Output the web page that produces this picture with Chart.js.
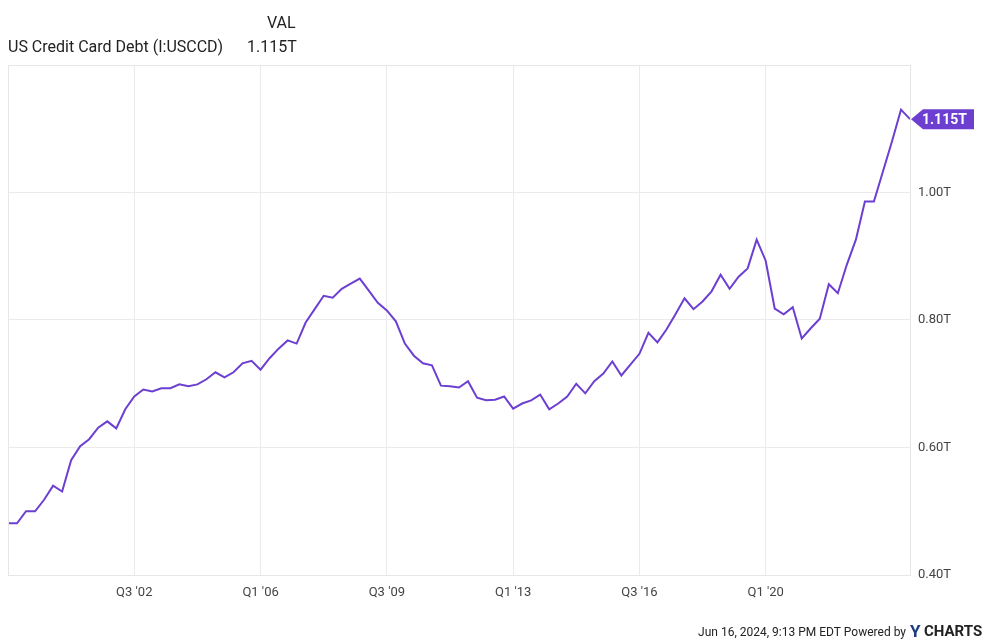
<!DOCTYPE html>
<html><head><meta charset="utf-8">
<script src="https://cdn.jsdelivr.net/npm/chart.js@4"></script>
<style>html,body{margin:0;padding:0;background:#fff}#w{width:1000px;height:643px}</style>
</head><body><div id="w"><canvas id="c"></canvas></div>
<script>
const startLabel = "Q1 '99";
const values = [0.481,0.481,0.500,0.500,0.518,0.540,0.531,0.580,0.602,0.613,0.631,0.641,0.630,0.660,0.680,0.691,0.688,0.693,0.693,0.699,0.696,0.699,0.707,0.718,0.710,0.718,0.732,0.736,0.722,0.740,0.755,0.768,0.763,0.796,0.817,0.838,0.835,0.849,0.857,0.865,0.846,0.827,0.815,0.798,0.763,0.744,0.732,0.729,0.697,0.696,0.694,0.704,0.678,0.674,0.675,0.680,0.661,0.669,0.674,0.683,0.660,0.669,0.680,0.700,0.685,0.704,0.716,0.735,0.713,0.730,0.747,0.780,0.765,0.785,0.809,0.834,0.817,0.829,0.845,0.871,0.849,0.868,0.881,0.926,0.893,0.818,0.809,0.820,0.771,0.787,0.802,0.856,0.842,0.887,0.926,0.986,0.986,1.033,1.080,1.130,1.115];
const xTickPos = [14,28,42,56,70,84];
const xTickLabels = ["Q3 '02","Q1 '06","Q3 '09","Q1 '13","Q3 '16","Q1 '20"];
const yTicks = [0.4,0.6,0.8,1.0];
const lastLabel = "1.115T";
const LINE = '#6c3fd1';
const pts = values.map((v,i)=>({x:i,y:v}));
const deco = {id:'deco',
  beforeDraw(ch){const c=ch.ctx;c.save();c.fillStyle='#fff';c.fillRect(0,0,ch.width,ch.height);c.restore();},
  afterDraw(ch){const c=ch.ctx,a=ch.chartArea;c.save();
    c.strokeStyle='#e6e6e6';c.lineWidth=1;c.strokeRect(a.left+0.5,a.top+0.5,a.right-a.left,a.bottom-a.top);
    c.fillStyle='#222';c.font='16px Roboto';c.textBaseline='alphabetic';
    c.textAlign='left';c.fillText('US Credit Card Debt (I:USCCD)',8,52);
    c.fillText('1.115T',247,52);c.fillText('VAL',267,28);
    c.font='12px Roboto';c.textAlign='right';c.fillText('Jun 16, 2024, 9:13 PM EDT Powered by',906,636);
    c.font='bold 17px Roboto';c.fillStyle='#1c3d7a';c.textAlign='left';c.fillText('Y',910,637);c.fillStyle='#222';c.font='bold 15px Roboto';c.fillText('CHARTS',924,636);
    const m=ch.getDatasetMeta(0).data;const p=m[m.length-1];
    const y=p.y, x0=a.right+1;
    c.fillStyle=LINE;c.beginPath();c.moveTo(x0,y);c.lineTo(x0+12,y-10);c.lineTo(974,y-10);c.lineTo(974,y+10);c.lineTo(x0+12,y+10);c.closePath();c.fill();
    c.fillStyle='#fff';c.font='bold 14px Roboto';c.textAlign='left';c.textBaseline='middle';c.fillText(lastLabel,922,y+1);
    c.restore();}};
new Chart(document.getElementById('c'),{type:'line',
 data:{datasets:[{data:pts,borderColor:LINE,borderWidth:2,pointRadius:0,tension:0}]},
 options:{responsive:true,maintainAspectRatio:false,animation:false,
  layout:{padding:{top:65,left:8,right:0,bottom:0}},
  plugins:{legend:{display:false},tooltip:{enabled:false}},
  scales:{
   x:{type:'linear',min:0,max:100,
      afterBuildTicks(s){s.ticks=xTickPos.map(v=>({value:v}));},
      afterFit(s){s.height=68;},
      border:{display:false},
      grid:{color:'#ebebeb',drawTicks:false},
      ticks:{padding:10,color:'#444',font:{family:'Roboto',size:13},maxRotation:0,
        callback:(v)=>xTickLabels[xTickPos.indexOf(v)]}},
   y:{position:'right',min:0.4,max:1.2,
      afterBuildTicks(s){s.ticks=yTicks.map(v=>({value:v}));},
      afterFit(s){s.width=90;},
      border:{display:false},
      grid:{color:'#ebebeb',drawTicks:false},
      ticks:{padding:8,color:'#444',font:{family:'Roboto',size:13},
        callback:(v)=>v.toFixed(2)+'T'}}}},
 plugins:[deco]});
</script></body></html>
